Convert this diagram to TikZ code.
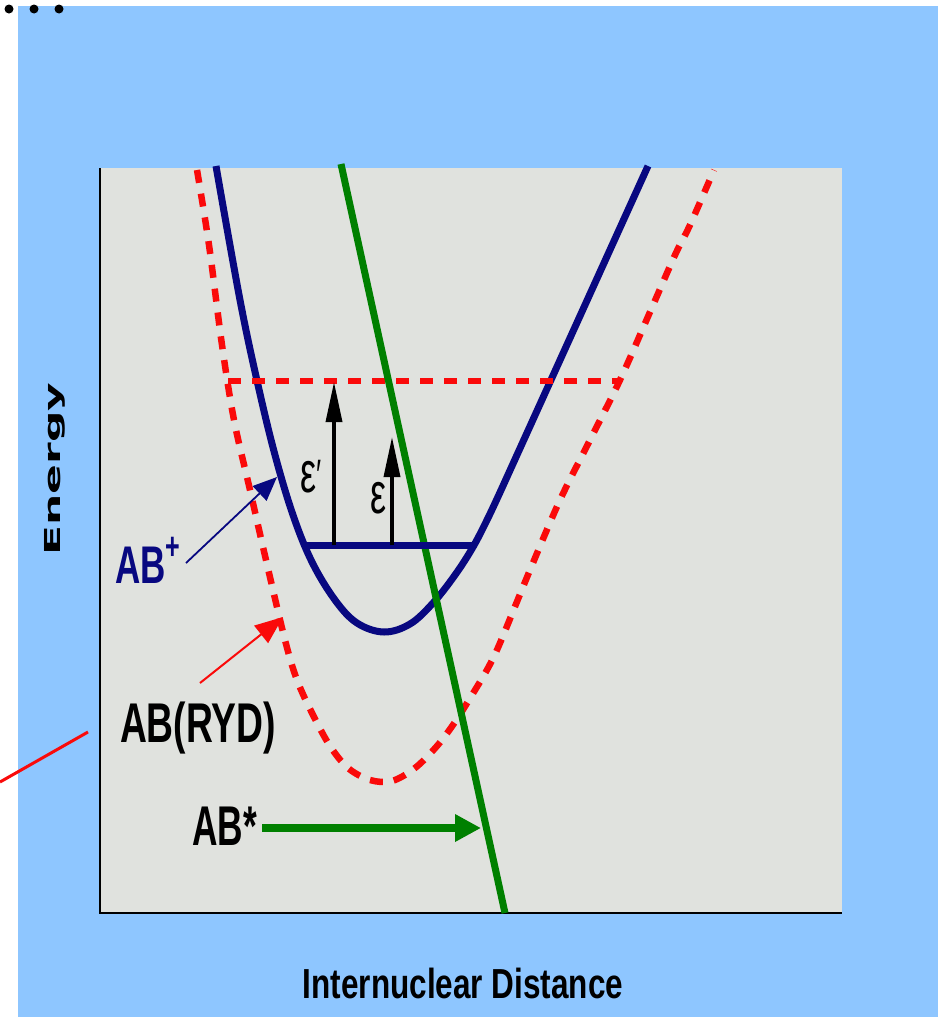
\documentclass[tikz,border=0pt]{standalone}
\usepackage{fontspec}
\setmainfont{Liberation Sans}
\newfontfamily\heavyfont{DejaVu Sans}
\usetikzlibrary{arrows.meta}
\definecolor{bgblue}{RGB}{142,198,255}
\definecolor{plotgray}{RGB}{224,226,222}
\definecolor{navyc}{RGB}{8,8,128}
\definecolor{dgreen}{RGB}{0,128,0}
\definecolor{rred}{RGB}{250,10,10}
\begin{document}
\begin{tikzpicture}[x=1pt,y=-1pt,
  lbl/.style={inner sep=0pt},
  curveblue/.style={navyc, line width=7pt, line join=round},
  curvered/.style={rred, line width=6.5pt, dash pattern=on 13pt off 11pt},
  greenline/.style={dgreen, line width=7pt},
  blkarrow/.style={black, line width=3.5pt, -{Triangle[length=40pt,width=16pt]}},
  bluepointer/.style={navyc, line width=1.8pt, -{Triangle[length=24pt,width=20pt]}},
  redpointer/.style={rred, line width=2pt, -{Triangle[length=28pt,width=22pt]}},
  greenarrow/.style={dgreen, line width=8pt, -{Triangle[length=26pt,width=26pt]}}]
\useasboundingbox (0,0) rectangle (938,1017);
\fill[white] (0,0) rectangle (938,1017);
\fill[bgblue] (18,6) rectangle (938,1017);
\fill[plotgray] (100,168) rectangle (842,913);
\draw[line width=2.5pt] (100,168) -- (100,913) -- (842,913);
% dots
\fill[black] (9,9) circle (4.5);
\fill[black] (34,9) circle (4.5);
\fill[black] (59,9) circle (4.5);
% blue curve AB+
\draw[curveblue] plot[smooth, tension=0.6] coordinates {(216,166) (240,300) (258,385) (275,455) (293,515) (312,562) (335,600) (357,623) (384,632) (410,624) (433,603) (455,575) (473,547) (488,518) (502,488)} -- (648,166);
% red dashed curve AB(RYD)
\draw[curvered] plot[smooth, tension=0.55] coordinates {(197,170) (209,245) (222,345) (234,420) (250,490) (266,560) (285,640) (297,680) (313,715) (330,746) (348,768) (370,780) (392,781) (415,768) (437,746) (455,722) (472,695) (488,668) (500,643) (530,570) (560,500) (590,440) (620,380) (650,312) (675,255) (690,225) (714,170)};
\draw[curvered] (228,381) -- (620,381);
% green line AB*
\coordinate (gtop) at (341,164);
\coordinate (gbot) at (505,913);
\draw[greenline] (gtop) -- (gbot);
% blue level
\coordinate (lvl1) at (305,545);
\coordinate (lvl2) at (473,545);
\draw[navyc, line width=7pt] (lvl1) -- (lvl2);
% black arrows
\coordinate (e1s) at (334,545);
\coordinate (e1t) at (334,382);
\coordinate (e2s) at (392,545);
\coordinate (e2t) at (392,437);
\draw[blkarrow] (e1s) -- (e1t);
\draw[blkarrow] (e2s) -- (e2t);
\node[lbl, anchor=base west] (epsp) at (300,492) {\scalebox{0.62}[1]{\fontsize{58}{60}\selectfont ε\raisebox{2pt}{\fontsize{44}{46}\selectfont\char"2032}}};
\node[lbl, anchor=base west] (eps) at (370,513) {\scalebox{0.62}[1]{\fontsize{58}{60}\selectfont ε}};
% labels
\node[lbl, anchor=base west, text=navyc] (abplus) at (115,583) {\scalebox{0.66}[1]{\bfseries\fontsize{53}{60}\selectfont AB\raisebox{24pt}{\fontsize{38}{40}\selectfont +}}};
\node[lbl, anchor=base] (abryd) at (198,742) {\scalebox{0.665}[1]{\bfseries\fontsize{56}{60}\selectfont AB(RYD)}};
\node[lbl, anchor=base west] (abstar) at (192,845) {\scalebox{0.63}[1]{\bfseries\fontsize{56}{60}\selectfont AB*}};
% pointers
\coordinate (bp0) at (186,563);
\coordinate (bp1) at (277,477);
\draw[bluepointer] (bp0) -- (bp1);
\coordinate (rp0) at (200,683);
\coordinate (rp1) at (283,617);
\draw[redpointer] (rp0) -- (rp1);
\coordinate (ro0) at (0,782);
\coordinate (ro1) at (88,732);
\draw[rred, line width=3pt] (ro0) -- (ro1);
\coordinate (ga0) at (262,828);
\coordinate (ga1) at (481,828);
\draw[greenarrow] (ga0) -- (ga1);
% axis labels
\node[lbl, rotate=90, anchor=base] (energy) at (60,469) {\scalebox{2.0}[1]{\heavyfont\bfseries\fontsize{22}{24}\selectfont Energy}};
\node[lbl, anchor=base] (xlab) at (463,998) {\scalebox{0.75}[1]{\bfseries\fontsize{42}{48}\selectfont Internuclear Distance}};
\end{tikzpicture}
\end{document}
